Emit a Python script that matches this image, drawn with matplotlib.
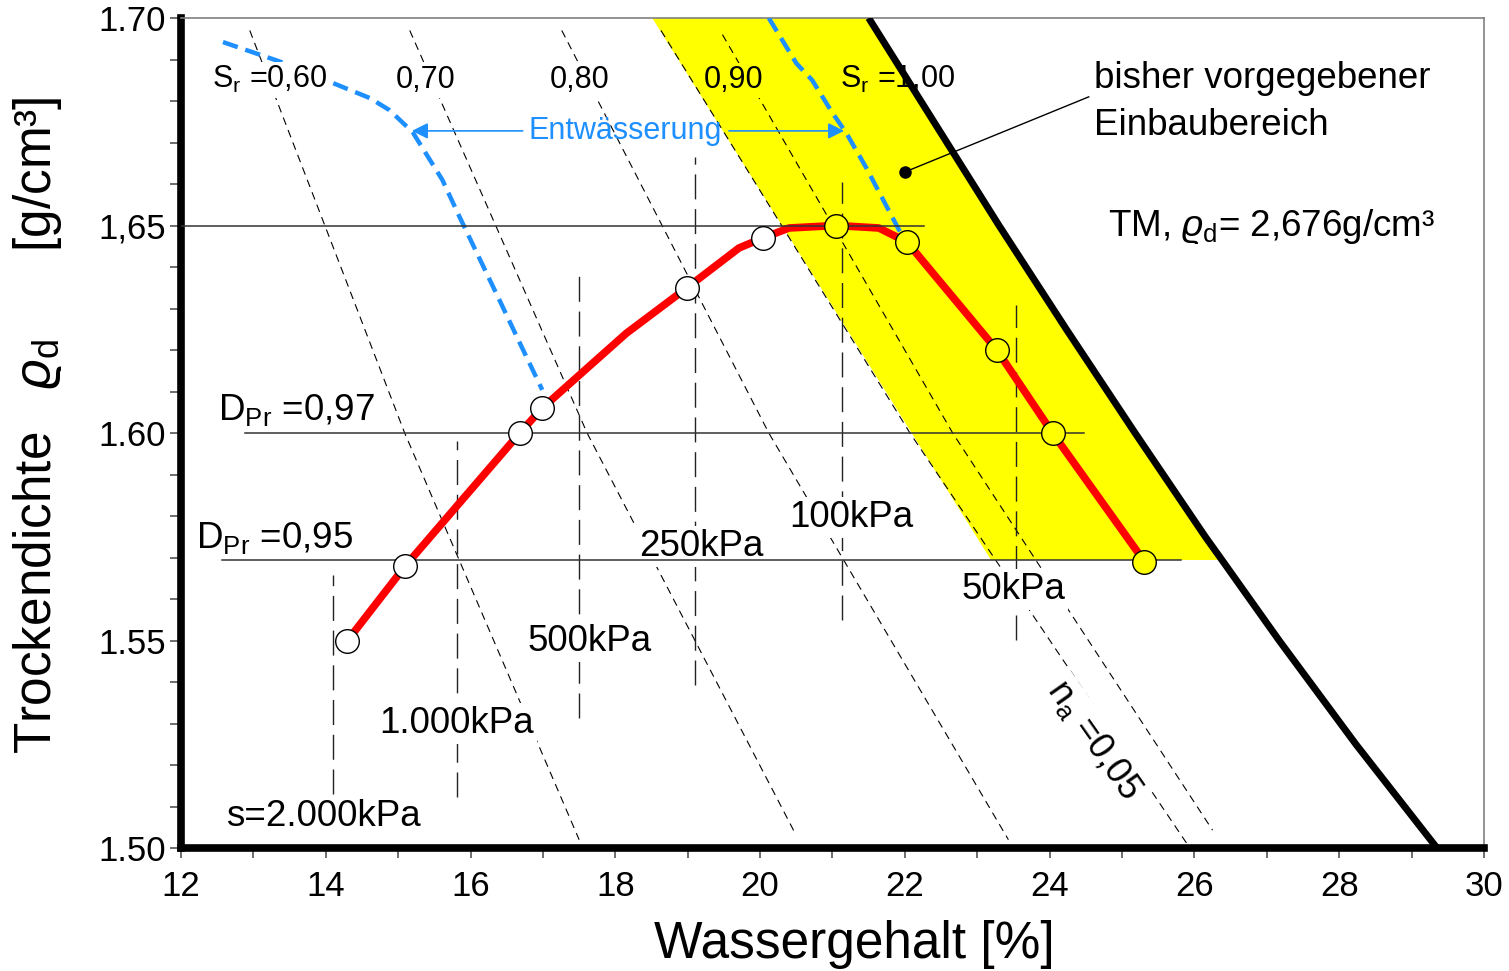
import numpy as np
import matplotlib.pyplot as plt
from matplotlib.ticker import MultipleLocator, FixedLocator

plt.rcParams['font.family'] = ['Liberation Sans', 'DejaVu Sans']
plt.rcParams['mathtext.fontset'] = 'custom'
plt.rcParams['mathtext.rm'] = 'Liberation Sans'
plt.rcParams['mathtext.it'] = 'Liberation Sans:italic'
plt.rcParams['mathtext.bf'] = 'Liberation Sans:bold'

# Proctorversuch, Messpunkte
w_test = [14.30, 15.10, 16.68, 16.99, 18.99, 20.04, 21.05, 22.03, 23.27, 24.04, 25.31]
rho_test = [1.550, 1.568, 1.600, 1.606, 1.635, 1.647, 1.650, 1.646, 1.620, 1.600, 1.569]

# Proctorkurve (durch die Messpunkte)
w_curve = [14.30, 15.10, 16.68, 16.99, 18.15, 18.99, 19.71, 20.04, 20.40, 21.05,
           21.64, 22.03, 23.27, 24.04, 25.31]
rho_curve = [1.550, 1.568, 1.600, 1.606, 1.624, 1.635, 1.6446, 1.647, 1.6494, 1.650,
             1.6494, 1.646, 1.620, 1.600, 1.569]

# Entwaesserungskurven
w_drain_a = [12.58, 13.50, 14.06, 14.61, 14.88, 15.20, 15.61, 15.85, 16.40, 16.68, 16.99]
rho_drain_a = [1.6942, 1.6887, 1.6846, 1.6807, 1.6778, 1.6725, 1.661, 1.652, 1.632, 1.6217, 1.6104]
w_drain_b = [20.12, 20.50, 20.72, 21.00, 21.19, 21.46, 21.92, 21.97]
rho_drain_b = [1.700, 1.6891, 1.685, 1.6771, 1.6723, 1.6641, 1.6489, 1.6475]

# Saettigungslinien S_r = 0,6 ... 0,9 und n_a = 0,05
sr_w = [[12.95, 15.09, 17.50],
        [15.16, 17.61, 20.47],
        [17.26, 20.12, 23.43],
        [19.48, 22.66, 26.25],
        [18.63, 22.07, 25.89]]
sr_rho = [[1.697, 1.600, 1.502],
          [1.697, 1.600, 1.504],
          [1.697, 1.600, 1.502],
          [1.696, 1.600, 1.5043],
          [1.697, 1.600, 1.5012]]

# S_r = 1,00
w_sat = [21.50, 22.40, 23.30, 24.23, 25.18, 26.15, 26.38, 27.17, 28.23, 29.35]
rho_sat = [1.700, 1.675, 1.650, 1.625, 1.600, 1.575, 1.5694, 1.550, 1.525, 1.500]

# Einbaubereich, linker Rand
w_zone_left = [18.51, 23.19]
rho_zone_left = [1.700, 1.5694]

# horizontale Linien: rho_max, D_Pr 0,97 / 0,95
h_rho = [1.650, 1.600, 1.5694]
h_w_start = [12.0, 12.88, 12.57]
h_w_end = [22.26, 24.47, 25.81]

# Saugspannungen
s_w = [14.10, 15.81, 17.50, 19.10, 21.13, 23.54]
s_top = [1.5658, 1.5980, 1.640, 1.6665, 1.6605, 1.6308]
s_bot = [1.5130, 1.5123, 1.5313, 1.5393, 1.5549, 1.5501]
s_labels = ['s=2.000kPa', '1.000kPa', '500kPa', '250kPa', '100kPa', '50kPa']
s_label_w = [13.96, 15.81, 17.64, 19.19, 21.26, 23.50]
s_label_rho = [1.5053, 1.5277, 1.5475, 1.5704, 1.5774, 1.5600]

x_ticks = [12, 14, 16, 18, 20, 22, 24, 26, 28, 30]
y_ticks = [1.50, 1.55, 1.60, 1.65, 1.70]
y_tick_labels = ['1.50', '1.55', '1.60', '1,65', '1.70']

blue = '#1E8FFF'
yellow = '#FFFF00'
white_box = dict(boxstyle='square,pad=0.08', fc='white', ec='none')

fig = plt.figure(figsize=(15.09, 9.71), dpi=100)
ax = fig.add_axes([181 / 1509, 1 - 848 / 971, 1303 / 1509, 830 / 971])

# gelber Bereich zwischen n_a-Rand und S_r = 1,00
right_edge = [(w, r) for w, r in zip(w_sat, rho_sat) if r >= rho_zone_left[-1]]
zone_w = w_zone_left + [p[0] for p in right_edge[::-1]]
zone_rho = rho_zone_left + [p[1] for p in right_edge[::-1]]
ax.fill(zone_w, zone_rho, color=yellow, lw=0, zorder=1)

for y, x0, x1 in zip(h_rho, h_w_start, h_w_end):
    ax.plot([x0, x1], [y, y], color='#333333', lw=1.1, zorder=6.5)

for w, r in zip(sr_w, sr_rho):
    ax.plot(w, r, color='black', lw=0.8, ls=(0, (7, 5)), zorder=2)

for w, t, b in zip(s_w, s_top, s_bot):
    ax.plot([w, w], [b, t], color='#222222', lw=1.0, ls=(0, (18, 7)), zorder=2)

ax.plot(w_sat, rho_sat, color='black', lw=5, zorder=3, solid_capstyle='butt',
        solid_joinstyle='round')

ax.plot(w_drain_a, rho_drain_a, color=blue, lw=3.2, ls=(0, (3.5, 1.8)), zorder=3)
ax.plot(w_drain_b, rho_drain_b, color=blue, lw=3.2, ls=(0, (3.5, 1.8)), zorder=3)

ax.plot(w_curve, rho_curve, color='red', lw=5.5, solid_joinstyle='round', zorder=4)
ax.plot(w_test[:6], rho_test[:6], 'o', ms=17, mfc='white', mec='black', mew=1.0, zorder=7)
ax.plot(w_test[6:], rho_test[6:], 'o', ms=17, mfc=yellow, mec='black', mew=1.0, zorder=7)

# Beschriftungen Saettigung
ax.text(12.43, 1.6831, r'S$_\mathregular{r}$ =0,60', fontsize=22, ha='left', va='baseline',
        bbox=white_box, zorder=6)
ax.text(15.38, 1.6831, '0,70', fontsize=22, ha='center', va='baseline', bbox=white_box, zorder=6)
ax.text(17.50, 1.6831, '0,80', fontsize=22, ha='center', va='baseline', bbox=white_box, zorder=6)
ax.text(19.64, 1.6831, '0,90', fontsize=22, ha='center', va='baseline',
        bbox=dict(boxstyle='square,pad=0.08', fc=yellow, ec='none'), zorder=6)
ax.text(21.10, 1.6831, r'S$_\mathregular{r}$ =1,00', fontsize=22, ha='left', va='baseline', zorder=6)

# Entwaesserung
ax.text(18.14, 1.6728, 'Entwässerung', fontsize=22, color=blue, ha='center', va='center', zorder=6)
arrow = dict(arrowstyle='-|>', color=blue, lw=1.2, mutation_scale=24, shrinkA=0, shrinkB=0)
ax.annotate('', xy=(15.19, 1.6728), xytext=(16.72, 1.6728), arrowprops=arrow, zorder=6)
ax.annotate('', xy=(21.16, 1.6728), xytext=(19.57, 1.6728), arrowprops=arrow, zorder=6)

# D_Pr
ax.text(12.51, 1.6031, r'D$_\mathregular{Pr}$ =0,97', fontsize=26.5, ha='left', va='baseline', zorder=6)
ax.text(12.21, 1.5723, r'D$_\mathregular{Pr}$ =0,95', fontsize=26.5, ha='left', va='baseline', zorder=6)

for lab, x, y in zip(s_labels, s_label_w, s_label_rho):
    ax.text(x, y, lab, fontsize=26.5, ha='center', va='baseline', bbox=white_box, zorder=6)

ax.text(24.61, 1.526, r'n$_\mathregular{a}$ =0,05', fontsize=26, rotation=-55,
        rotation_mode='anchor', ha='center', va='center', bbox=white_box, zorder=6)

# Einbaubereich
ax.plot([22.0, 24.54], [1.6629, 1.681], color='black', lw=1.0, zorder=6)
ax.plot([22.0], [1.6629], 'o', ms=8, color='black', zorder=6)
ax.text(24.61, 1.6831, 'bisher vorgegebener', fontsize=26.5, ha='left', va='baseline', zorder=6)
ax.text(24.61, 1.6718, 'Einbaubereich', fontsize=26.5, ha='left', va='baseline', zorder=6)
ax.text(24.81, 1.6475, r'TM, $\varrho_\mathregular{d}$= 2,676g/cm³', fontsize=26.5,
        ha='left', va='baseline', zorder=6)

ax.set_xlim(12, 30)
ax.set_ylim(1.50, 1.70)
ax.xaxis.set_major_locator(FixedLocator(x_ticks))
ax.xaxis.set_minor_locator(MultipleLocator(1))
ax.yaxis.set_major_locator(FixedLocator(y_ticks))
ax.set_yticklabels(y_tick_labels)
ax.yaxis.set_minor_locator(MultipleLocator(0.01))
ax.tick_params(which='both', direction='out', color='#555555', width=1.2, labelsize=25)
ax.tick_params(axis='x', which='both', length=7.5, pad=8)
ax.tick_params(axis='y', which='both', length=8, pad=3)

for side in ['left', 'bottom']:
    ax.spines[side].set_linewidth(5.5)
    ax.spines[side].set_color('black')
for side in ['top', 'right']:
    ax.spines[side].set_linewidth(1.2)
    ax.spines[side].set_color('#808080')

ax.set_xlabel('Wassergehalt [%]', fontsize=37, va='baseline')
ax.xaxis.set_label_coords(0.517, -0.1325)
ax.set_ylabel(r'Trockendichte   $\varrho_\mathregular{d}$      [g/cm³]', fontsize=37, va='center')
ax.yaxis.set_label_coords(-0.11, 0.51)

fig.savefig('out.png', dpi=100)
